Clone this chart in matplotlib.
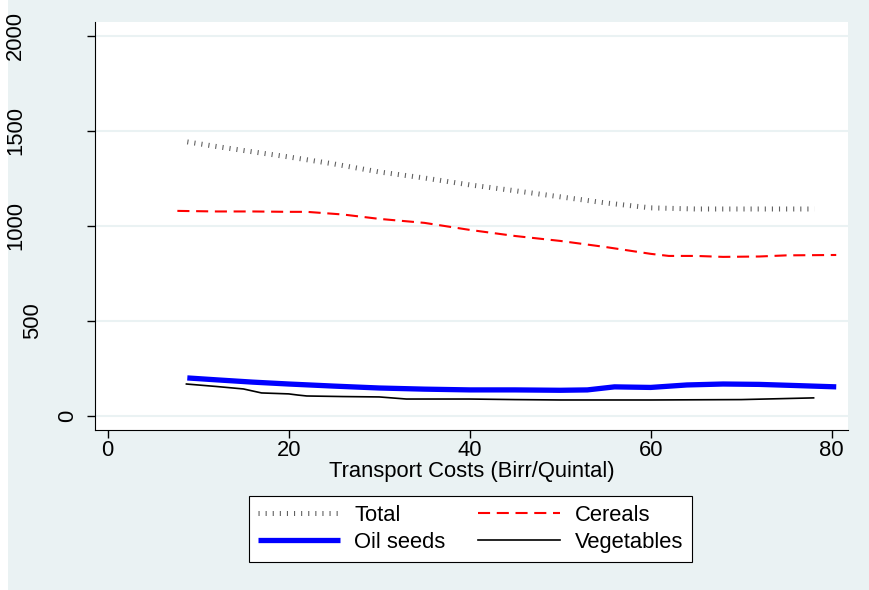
import matplotlib

matplotlib.use("Agg")
import matplotlib.pyplot as plt
from matplotlib.patches import Rectangle
from matplotlib.transforms import blended_transform_factory

plt.rcParams["font.family"] = ["Liberation Sans", "DejaVu Sans"]

# values (transport cost vs. quantity)
total_x = [8.8, 12, 16, 20, 25, 30, 35, 40, 45, 50, 55, 60, 65, 70, 75, 78.1]
total_y = [1442, 1418, 1390, 1363, 1326, 1284, 1252, 1216, 1185, 1153, 1121, 1095, 1089, 1089, 1089, 1089]

cereals_x = [7.7, 12, 16, 20, 22, 26, 30, 35, 40, 45, 50, 55, 60, 62, 65, 68, 72, 75, 80.5]
cereals_y = [1079, 1076, 1076, 1074, 1074, 1060, 1037, 1016, 979, 947, 921, 889, 853, 842, 842, 837, 839, 845, 847]

oil_x = [8.8, 12, 16, 20, 25, 30, 35, 40, 45, 50, 53, 56, 60, 64, 68, 72, 76, 80.5]
oil_y = [200, 190, 178, 168, 157, 147, 141, 137, 137, 135, 137, 153, 150, 163, 168, 166, 160, 153]

veg_x = [8.7, 12, 15, 17, 20, 21, 22, 26, 30, 33, 40, 45, 50, 60, 70, 78]
veg_y = [168, 155, 142, 121, 116, 110, 105, 102, 100, 89, 89, 86, 84, 84, 86, 95]

x_ticks = [0, 20, 40, 60, 80]
y_ticks = [0, 500, 1000, 1500, 2000]

FS = 15.8
bg = "#eaf2f3"
W, H = 870, 590
fig = plt.figure(figsize=(W / 100, H / 100), dpi=100, facecolor=bg)
# thin white strip down the left edge, as in the exported graph
fig.patches.append(Rectangle((0, 0), 8 / W, 1, transform=fig.transFigure,
                             facecolor="white", edgecolor="none", zorder=-1))

ax = fig.add_axes([95 / W, 1 - 430 / H, (848 - 95) / W, (430 - 22) / H])
ax.set_facecolor("white")

l_total, = ax.plot(total_x, total_y, color="#606060", lw=3.6, dashes=(0.22, 1.2),
                   dash_capstyle="butt", label="Total")
l_cer, = ax.plot(cereals_x, cereals_y, color="red", lw=1.5, dashes=(5.8, 3.2),
                 label="Cereals")
l_oil, = ax.plot(oil_x, oil_y, color="blue", lw=3.8, solid_capstyle="butt",
                 label="Oil seeds")
l_veg, = ax.plot(veg_x, veg_y, color="black", lw=1.2, label="Vegetables")

ax.set_xlim(-1.4, 81.8)
ax.set_ylim(-74, 2073)
ax.set_xticks(x_ticks)
ax.set_yticks(y_ticks)
ax.set_yticklabels([])
ax.tick_params(labelsize=FS, length=6, width=1, pad=1)
ax.grid(axis="y", color=bg, lw=1.5)
ax.set_axisbelow(True)
for side in ("top", "right"):
    ax.spines[side].set_visible(False)
ax.set_xlabel("Transport Costs (Birr/Quintal)", fontsize=FS, labelpad=0)

# rotated y labels sit further left the longer they are (Stata export quirk)
trans = blended_transform_factory(fig.transFigure, ax.transData)
for v in y_ticks:
    s = str(v)
    xc = (68 - 17.5 * (len(s) - 1)) / W
    ax.text(xc, v, s, transform=trans, rotation=90, ha="center", va="center",
            fontsize=FS)

leg = fig.legend(
    [l_total, l_oil, l_cer, l_veg], ["Total", "Oil seeds", "Cereals", "Vegetables"],
    loc="center", bbox_to_anchor=(470.5 / W, 1 - 529 / H), ncol=2, fontsize=FS,
    handlelength=3.74, columnspacing=1.5, handletextpad=0.64,
    labelspacing=0.28, fancybox=False, edgecolor="black", framealpha=1,
    borderpad=0.41,
)
leg.get_frame().set_linewidth(0.8)

fig.savefig("out.png", dpi=100, facecolor=bg)
